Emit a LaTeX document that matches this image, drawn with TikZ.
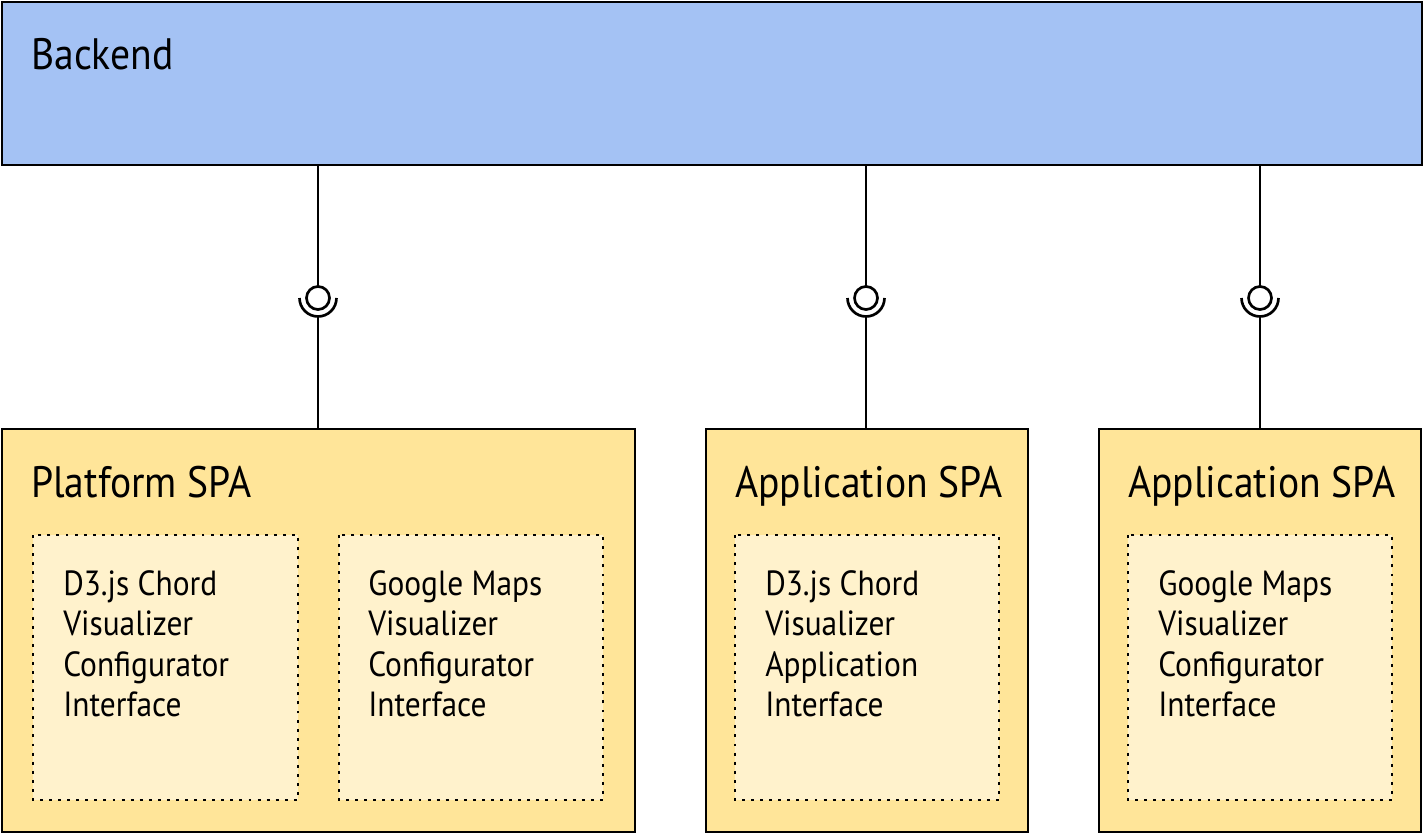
\documentclass[tikz,border=0pt]{standalone}
\usepackage{fontspec}
\usetikzlibrary{calc}
\setmainfont{PT Sans}[FakeStretch=0.9]
\begin{document}
\begin{tikzpicture}[x=0.75pt,y=-0.75pt,
  bigbox/.style={draw=black,line width=2pt},
  inbox/.style={draw=black,line width=2.2pt,dash pattern=on 2.2pt off 4.6pt,fill=innerfill},
  title/.style={anchor=base west,inner sep=0pt,font=\fontsize{33}{38}\selectfont},
  itext/.style={anchor=north west,inner sep=0pt,align=left,font=\fontsize{26.2}{30.4}\selectfont},
  conn/.style={line width=2pt}]
\definecolor{backfill}{HTML}{A4C2F4}
\definecolor{spafill}{HTML}{FFE599}
\definecolor{innerfill}{HTML}{FFF2CC}
\useasboundingbox (0,0) rectangle (1424,834);
% Backend
\draw[bigbox,fill=backfill] (2,2) rectangle (1422,165);
\node[title] (backend) at (31,70) {Backend};
% SPA boxes
\draw[bigbox,fill=spafill] (2,429) rectangle (635,832);
\draw[bigbox,fill=spafill] (706,429) rectangle (1028,832);
\draw[bigbox,fill=spafill] (1099,429) rectangle (1421,832);
\node[title] (t1) at (31,497) {Platform SPA};
\node[title] (t2) at (735,497) {Application SPA};
\node[title] (t3) at (1128,497) {Application SPA};
% inner boxes
\draw[inbox] (33,535) rectangle (298,800);
\draw[inbox] (339,535) rectangle (603,800);
\draw[inbox] (735,535) rectangle (999,800);
\draw[inbox] (1128,535) rectangle (1392,800);
\node[itext] (i1) at (63,570) {D3.js Chord\\Visualizer\\Configurator\\Interface};
\node[itext] (i2) at (368,570) {Google Maps\\Visualizer\\Configurator\\Interface};
\node[itext] (i3) at (765,570) {D3.js Chord\\Visualizer\\Application\\Interface};
\node[itext] (i4) at (1158,570) {Google Maps\\Visualizer\\Configurator\\Interface};
% connectors with ball and socket
\foreach \x/\n in {318/a,866/b,1260/c}{
  \coordinate (top\n) at (\x,165);
  \coordinate (ball\n) at (\x,298);
  \coordinate (bot\n) at (\x,429);
  \draw[conn] (top\n) -- ++(0,121.5);
  \draw[conn] (ball\n) circle[radius=11.5];
  \draw[conn] ($(ball\n)+(-18.5,0)$) arc[start angle=180,end angle=0,radius=18.5];
  \draw[conn] ($(ball\n)+(0,18.5)$) -- (bot\n);
}
\end{tikzpicture}
\end{document}
